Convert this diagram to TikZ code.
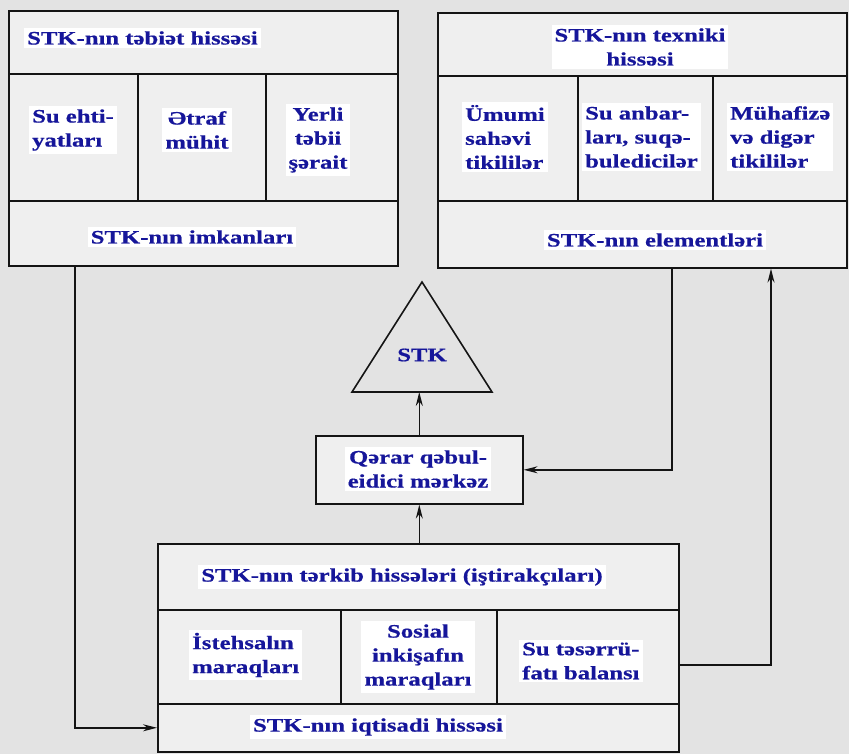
\documentclass[tikz,border=0pt]{standalone}
\usepackage{fontspec}
\usetikzlibrary{arrows.meta}
\newfontfamily\lblfont{Liberation Serif Bold}[FakeStretch=1.3,FakeBold=0.6]
\definecolor{pagebg}{HTML}{E3E3E3}
\definecolor{cellbg}{HTML}{EFEFEF}
\definecolor{inkblue}{HTML}{16169A}
\definecolor{inkline}{HTML}{141414}
\begin{document}
\begin{tikzpicture}[x=1pt,y=-1pt,
  cell/.style={draw=inkline, line width=1.6pt, fill=cellbg, inner sep=0pt,
               anchor=north west},
  lbl/.style={fill=white, text=inkblue, inner sep=3pt,
              font=\lblfont\fontsize{19}{24}\selectfont},
  lblc/.style={lbl, align=center},
  lbll/.style={lbl, align=left, anchor=west},
  arr/.style={draw=inkline, line width=1.4pt,
              -{Stealth[length=14pt,width=7pt]}}]
% page
\fill[pagebg] (0,0) rectangle (849,754);
\useasboundingbox (0,0) rectangle (849,754);

% natural part (top left)
\node[cell, minimum width=389pt, minimum height=63pt]  (tlhead) at (8,10) {};
\node[cell, minimum width=129pt, minimum height=127pt] (tlc1) at (8,73) {};
\node[cell, minimum width=128pt, minimum height=127pt] (tlc2) at (137,73) {};
\node[cell, minimum width=132pt, minimum height=127pt] (tlc3) at (265,73) {};
\node[cell, minimum width=389pt, minimum height=65pt]  (tlfoot) at (8,200) {};
\node[lbl, anchor=west] (tlheadt) at (24,38) {STK-nın təbiət hissəsi};
\node[lbll] (tlc1t) at (29,130) {Su ehti-\\yatları};
\node[lblc] (tlc2t) at (197,130) {Ətraf\\mühit};
\node[lblc] (tlc3t) at (318,140) {Yerli\\təbii\\şərait};
\node[lbl] (tlfoott) at (192,237) {STK-nın imkanları};

% technical part (top right)
\node[cell, minimum width=409pt, minimum height=63pt]  (trhead) at (437,12) {};
\node[cell, minimum width=140pt, minimum height=125pt] (trc1) at (437,75) {};
\node[cell, minimum width=135pt, minimum height=125pt] (trc2) at (577,75) {};
\node[cell, minimum width=134pt, minimum height=125pt] (trc3) at (712,75) {};
\node[cell, minimum width=409pt, minimum height=67pt]  (trfoot) at (437,200) {};
\node[lblc] (trheadt) at (640,47) {STK-nın texniki\\hissəsi};
\node[lbll] (trc1t) at (462,137) {Ümumi\\sahəvi\\tikililər};
\node[lbll] (trc2t) at (582,137) {Su anbar-\\ları, suqə-\\buledicilər};
\node[lbll] (trc3t) at (727,137) {Mühafizə\\və digər\\tikililər};
\node[lbl] (trfoott) at (655,240) {STK-nın elementləri};

% the system itself
\coordinate (triapex) at (422,282);
\coordinate (trileft) at (352,392);
\coordinate (triright) at (492,392);
\coordinate (tribase) at (422,392);
\draw[inkline, line width=1.6pt, line join=miter] (triapex) -- (trileft) -- (triright) -- cycle;
\node[text=inkblue, font=\lblfont\fontsize{19}{24}\selectfont] (stk) at (422,355) {STK};

% decision centre
\node[cell, minimum width=207pt, minimum height=68pt] (qerar) at (315,435) {};
\node[lblc] (qerart) at (418,469) {Qərar qəbul-\\eidici mərkəz};

% economic part (bottom)
\node[cell, minimum width=521pt, minimum height=66pt] (bhead) at (157,543) {};
\node[cell, minimum width=183pt, minimum height=94pt] (bc1) at (157,609) {};
\node[cell, minimum width=156pt, minimum height=94pt] (bc2) at (340,609) {};
\node[cell, minimum width=182pt, minimum height=94pt] (bc3) at (496,609) {};
\node[cell, minimum width=521pt, minimum height=48pt] (bfoot) at (157,703) {};
\node[lbl] (bheadt) at (402,577) {STK-nın tərkib hissələri (iştirakçıları)};
\node[lbll] (bc1t) at (189,655) {İstehsalın\\maraqları};
\node[lblc] (bc2t) at (418,657) {Sosial\\inkişafın\\maraqları};
\node[lbll] (bc3t) at (519,661) {Su təsərrü-\\fatı balansı};
\node[lbl] (bfoott) at (378,727) {STK-nın iqtisadi hissəsi};

% connectors
\coordinate (leftx) at (75,0);
\coordinate (downx) at (672,0);
\coordinate (upx) at (771,0);
\coordinate (upy) at (0,665);
\draw[arr] (tlfoot.south -| leftx) |- (bfoot.west);
\draw[arr] (trfoot.south -| downx) |- (qerar.east);
\draw[arr] (bc3.east |- upy) -| (trfoot.south -| upx);
\draw[arr] (bhead.north -| qerar.south) -- (qerar.south);
\draw[arr] (qerar.north) -- (qerar.north |- tribase);
\end{tikzpicture}
\end{document}
